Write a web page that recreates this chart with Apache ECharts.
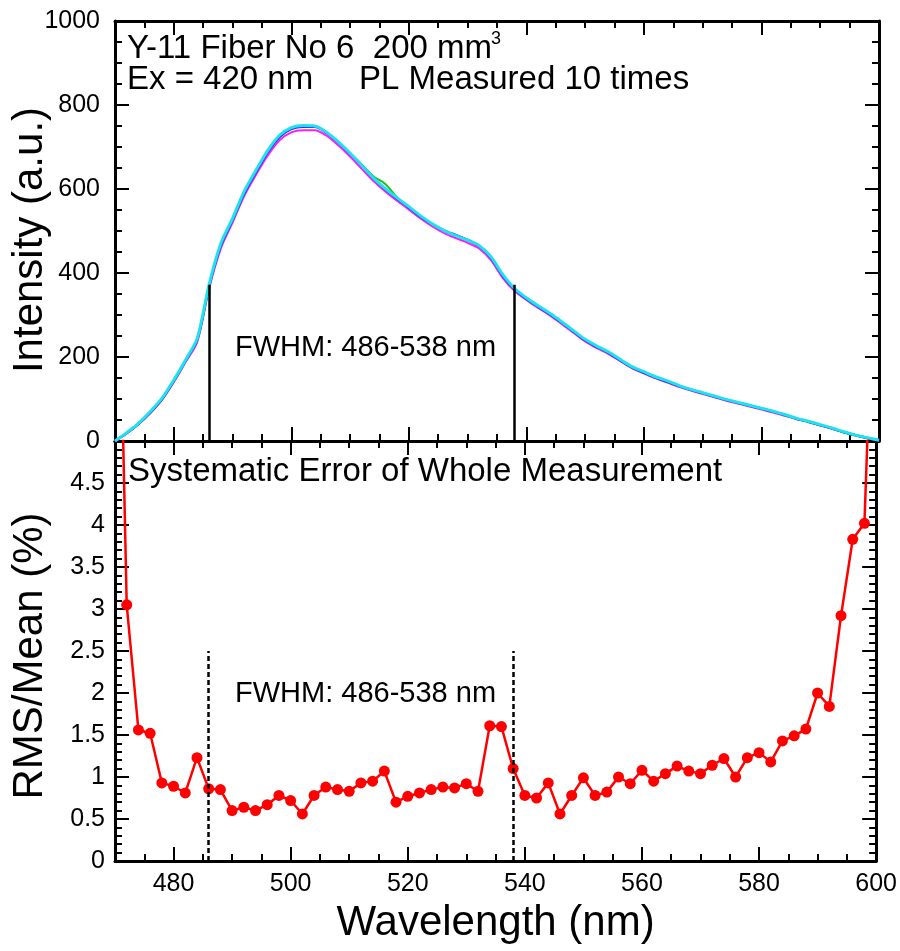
<!DOCTYPE html>
<html>
<head>
<meta charset="utf-8">
<script src="https://cdn.jsdelivr.net/npm/echarts@6.0.0/dist/echarts.min.js"></script>
<style>
html,body{margin:0;padding:0;background:#fff;}
#chart{width:900px;height:951px;}
</style>
</head>
<body>
<div id="chart"></div>
<script>
// wavelength grid of the PL spectra (nm)
var waveX = [470,472,474,476,478,480,482,484,486,488,490,492,494,496,498,500,502,504,506,508,510,512,514,516,518,520,522,524,526,528,530,532,534,536,538,540,542,544,546,548,550,552,554,556,558,560,562,564,566,568,570,572,574,576,578,580,582,584,586,588,590,592,594,596,598,600];

// a few of the 10 repeated measurements (a.u.)
var plMagenta = [0,18,40,66,98,140,188,236,362,458,520,584,634,680,716,735,740,740,727,704,677,648,619,594,572,551,530,511,495,483,472,458,430,388,357,336,317,299,279,258,237,221,207,190,173,161,149,139,129,120,112,104,96,89,82,75,68,60,52,45,37,29,21,13,7,2];
var plGreen = [0,19,41,68,100,143,191,242,368,465,526,590,641,688,724,743,748,748,734,712,686,658,630,612,580,556,534,516,501,490,479,464,436,393,361,339,320,302,282,261,240,224,210,192,175,163,151,141,131,122,114,106,98,91,84,77,70,62,53,46,38,30,21,14,7,2];
var plBlue = [0,19,41,68,100,143,191,242,368,465,526,590,641,688,724,743,748,748,734,711,684,656,625,599,577,556,534,516,501,490,479,464,436,393,361,339,320,302,282,261,240,224,210,192,175,163,151,141,131,122,114,106,98,91,84,77,70,62,53,46,38,30,21,14,7,2];
var plCyan = [0,20,42,70,102,145,193,245,372,470,530,595,645,692,728,746,751,750,735,712,685,656,626,601,579,558,536,517,501,489,478,465,438,396,363,341,322,304,284,263,242,226,212,194,177,165,153,143,132,123,115,107,99,92,85,78,71,63,54,47,39,31,22,14,8,2];

// RMS/Mean of the whole measurement (%)
var rmsX = [472,474,476,478,480,482,484,486,488,490,492,494,496,498,500,502,504,506,508,510,512,514,516,518,520,522,524,526,528,530,532,534,536,538,540,542,544,546,548,550,552,554,556,558,560,562,564,566,568,570,572,574,576,578,580,582,584,586,588,590,592,594,596,598];
var rmsVal = [3.05,1.56,1.52,0.93,0.89,0.81,1.23,0.86,0.85,0.60,0.64,0.60,0.67,0.78,0.72,0.56,0.78,0.88,0.85,0.83,0.93,0.95,1.07,0.70,0.77,0.81,0.85,0.88,0.87,0.92,0.83,1.61,1.60,1.10,0.78,0.75,0.93,0.56,0.78,0.99,0.78,0.82,1.00,0.92,1.08,0.95,1.04,1.13,1.07,1.04,1.14,1.22,1.00,1.23,1.29,1.18,1.43,1.49,1.57,2.00,1.84,2.92,3.83,4.02];
// curve continues off the top of the panel at both ends (no markers there)
var rmsEndX = [471, 599];
var rmsEndVal = [6.3, 6.0];

var fwhmBounds = [486, 538];
var fwhmTop = 372;
var fwhmDashTop = 2.5;

var xMajorTicks = [480,500,520,540,560,580,600];
var xMinorTicks = [475,485,490,495,505,510,515,525,530,535,545,550,555,565,570,575,585,590,595];

var FONT = '"Liberation Sans", Arial, Helvetica, sans-serif';

function pairs(xs, ys) {
  return xs.map(function (x, i) { return [x, ys[i]]; });
}

function frameX(grid, pos, ticks, len, labels) {
  return {
    type: 'value', gridIndex: grid, position: pos, min: 470, max: 600,
    axisLine: {show: len > 10, onZero: false, lineStyle: {color: '#000', width: 3}},
    axisTick: {show: true, inside: true, length: len, customValues: ticks, lineStyle: {color: '#000', width: 2}},
    axisLabel: labels ? {show: true, customValues: ticks, margin: 11, color: '#000', fontSize: 25, fontFamily: FONT} : {show: false},
    splitLine: {show: false}
  };
}

function frameY(grid, pos, max, step, minorSplit, labels, margin) {
  return {
    type: 'value', gridIndex: grid, position: pos, min: 0, max: max, interval: step,
    axisLine: {show: true, onZero: false, lineStyle: {color: '#000', width: 3}},
    axisTick: {show: true, inside: true, length: 14, lineStyle: {color: '#000', width: 2}},
    minorTick: {show: true, splitNumber: minorSplit, length: 7, lineStyle: {color: '#000', width: 2}},
    axisLabel: labels ? {
      show: true, margin: margin, color: '#000', fontSize: 25, fontFamily: FONT,
      showMaxLabel: max > 10,
      formatter: function (v) { return String(v); }
    } : {show: false},
    splitLine: {show: false},
    minorSplitLine: {show: false}
  };
}

var xBottom = frameX(1, 'bottom', xMajorTicks, 14, true);
xBottom.name = 'Wavelength (nm)';
xBottom.nameLocation = 'middle';
xBottom.nameGap = 41;
xBottom.nameTextStyle = {fontSize: 42, color: '#000', fontFamily: FONT};

function plSeries(name, arr, color, width) {
  return {
    name: name, type: 'line', xAxisIndex: 0, yAxisIndex: 0,
    data: pairs(waveX, arr), showSymbol: false, symbol: 'none',
    smooth: 0.3, lineStyle: {color: color, width: width}
  };
}

var rmsData = [{value: [rmsEndX[0], rmsEndVal[0]], symbol: 'none'}]
  .concat(pairs(rmsX, rmsVal))
  .concat([{value: [rmsEndX[1], rmsEndVal[1]], symbol: 'none'}]);

var chart = echarts.init(document.getElementById('chart'), null, {renderer: 'canvas'});

var cyan = plSeries('cyan', plCyan, '#1ee3ea', 3);
cyan.markLine = {
  silent: true, symbol: ['none', 'none'], label: {show: false},
  lineStyle: {color: '#000', width: 2.5, type: 'solid'},
  data: fwhmBounds.map(function (x) { return [{coord: [x, 0]}, {coord: [x, fwhmTop]}]; })
};

chart.setOption({
  animation: false,
  backgroundColor: '#fff',
  grid: [
    {left: 115, top: 21, width: 764, height: 420},
    {left: 115, top: 441, width: 764, height: 420}
  ],
  xAxis: [
    frameX(0, 'bottom', xMajorTicks, 14, false),
    frameX(0, 'bottom', xMinorTicks, 7, false),
    frameX(0, 'top', xMajorTicks, 14, false),
    frameX(0, 'top', xMinorTicks, 7, false),
    xBottom,
    frameX(1, 'bottom', xMinorTicks, 7, false),
    frameX(1, 'top', xMajorTicks, 14, false),
    frameX(1, 'top', xMinorTicks, 7, false)
  ],
  yAxis: [
    frameY(0, 'left', 1000, 200, 4, true, 15),
    frameY(0, 'right', 1000, 200, 4, false, 0),
    frameY(1, 'left', 5, 0.5, 5, true, 10),
    frameY(1, 'right', 5, 0.5, 5, false, 0)
  ],
  series: [
    plSeries('magenta', plMagenta, '#ff1aff', 2),
    plSeries('green', plGreen, '#20c020', 2),
    plSeries('blue', plBlue, '#2030ff', 2.5),
    cyan,
    {
      name: 'rms', type: 'line', xAxisIndex: 4, yAxisIndex: 2,
      data: rmsData, symbol: 'circle', symbolSize: 11, clip: true,
      lineStyle: {color: '#ff0000', width: 2.5},
      itemStyle: {color: '#ff0000'},
      markLine: {
        silent: true, symbol: ['none', 'none'], label: {show: false},
        lineStyle: {color: '#000', width: 2.5, type: [5, 3]},
        data: fwhmBounds.map(function (x) { return [{coord: [x, 0]}, {coord: [x, fwhmDashTop]}]; })
      }
    }
  ],
  graphic: [
    {type: 'text', x: 127, y: 32, style: {text: 'Y-11 Fiber No 6  200 mm', font: '33px ' + FONT, fill: '#000', align: 'left', verticalAlign: 'top'}},
    {type: 'text', x: 491, y: 30, style: {text: '3', font: '18px ' + FONT, fill: '#000', align: 'left', verticalAlign: 'top'}},
    {type: 'text', x: 127, y: 63, style: {text: 'Ex = 420 nm     PL Measured 10 times', font: '33px ' + FONT, fill: '#000', align: 'left', verticalAlign: 'top'}},
    {type: 'text', x: 235, y: 333, style: {text: 'FWHM: 486-538 nm', font: '29px ' + FONT, fill: '#000', align: 'left', verticalAlign: 'top'}},
    {type: 'text', x: 128, y: 455, style: {text: 'Systematic Error of Whole Measurement', font: '33px ' + FONT, fill: '#000', align: 'left', verticalAlign: 'top'}},
    {type: 'text', x: 235, y: 679, style: {text: 'FWHM: 486-538 nm', font: '29px ' + FONT, fill: '#000', align: 'left', verticalAlign: 'top'}},
    {type: 'text', x: 30, y: 240, rotation: Math.PI / 2, style: {text: 'Intensity (a.u.)', font: '42px ' + FONT, fill: '#000', align: 'center', verticalAlign: 'middle'}},
    {type: 'text', x: 30, y: 656, rotation: Math.PI / 2, style: {text: 'RMS/Mean (%)', font: '42px ' + FONT, fill: '#000', align: 'center', verticalAlign: 'middle'}}
  ]
});
</script>
</body>
</html>
